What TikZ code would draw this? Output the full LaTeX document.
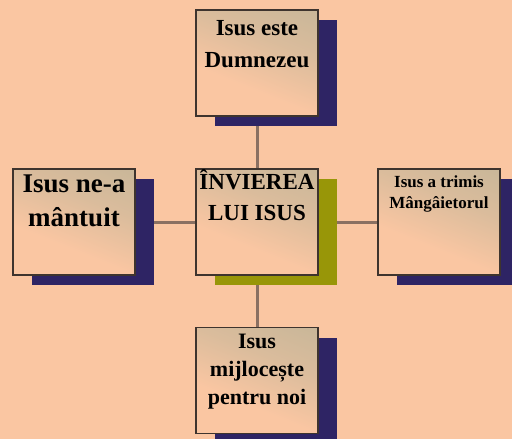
\documentclass[tikz,border=0pt]{standalone}
\usepackage{fontspec}
\setmainfont{Liberation Serif}
\usetikzlibrary{positioning}

\definecolor{peach}{RGB}{250,198,162}
\definecolor{cardgray}{RGB}{186,178,150}
\definecolor{navyshade}{RGB}{46,36,100}
\definecolor{oliveshade}{RGB}{152,150,8}
\definecolor{linkbrown}{RGB}{138,112,98}
\definecolor{rimgray}{RGB}{62,52,46}

\pgfdeclareverticalshading{cardfade}{100bp}{color(0bp)=(peach); color(38bp)=(peach);
  color(62bp)=(peach!50!cardgray); color(100bp)=(cardgray)}

\pgfdeclarelayer{paper}
\pgfdeclarelayer{links}
\pgfdeclarelayer{shades}
\pgfsetlayers{paper,links,shades,main}

\begin{document}
\begin{tikzpicture}[
    x=1pt, y=-1pt,
    card/.style={draw=rimgray, line width=1.3pt, minimum width=122pt, minimum height=106pt,
                 inner sep=0pt, shading=cardfade, shading angle=-22},
    backing/.style={fill=navyshade, minimum width=122pt, minimum height=106pt, inner sep=0pt},
    caption/.style={align=center, inner sep=0pt, text=black},
    link/.style={draw=linkbrown, line width=3pt},
  ]
  % --- page ---
  \begin{pgfonlayer}{paper}
    \fill[peach] (0,0) rectangle (512,439);
  \end{pgfonlayer}
  \useasboundingbox (0,0) rectangle (512,439);

  % --- cards (cross layout) ---
  \node[card] (dumnezeu)   at (257,63)    {};
  \node[card] (mantuit)    at (74,222)    {};
  \node[card] (inviere)    at (257,222)   {};
  \node[card] (mangaietor) at (439,222)   {};
  \node[card] (mijloceste) at (257,380.5) {};

  % --- card texts ---
  \node[caption, font=\bfseries\fontsize{23}{32}\selectfont, below=11pt of dumnezeu.north] (dumnezeuText) {Isus este\\Dumnezeu};
  \node[caption, font=\bfseries\fontsize{27}{34}\selectfont, below=6pt of mantuit.north] (mantuitText) {Isus ne-a\\mântuit};
  \node[caption, font=\bfseries\fontsize{23}{31}\selectfont, below=1pt of inviere.north] (inviereText) {ÎNVIEREA\\LUI ISUS};
  \node[caption, font=\bfseries\fontsize{17}{21}\selectfont, below=7pt of mangaietor.north] (mangaietorText) {Isus a trimis\\Mângâietorul};
  \node[caption, font=\bfseries\fontsize{22}{28}\selectfont, below=7pt of mijloceste.north] (mijlocesteText) {Isus\\mijlocește\\pentru noi};

  % --- drop shadows ---
  \begin{pgfonlayer}{shades}
    \foreach \card in {dumnezeu,mantuit,mangaietor,mijloceste}
      \node[backing] (\card Back) at ([shift={(19,10)}]\card) {};
    \node[backing, fill=oliveshade] (inviereBack) at ([shift={(19,10)}]inviere) {};
  \end{pgfonlayer}

  % --- connectors (behind everything) ---
  \begin{pgfonlayer}{links}
    \draw[link] (dumnezeu) -- (inviere);
    \draw[link] (mantuit) -- (inviere);
    \draw[link] (inviere) -- (mangaietor);
    \draw[link] (inviere) -- (mijloceste);
  \end{pgfonlayer}
\end{tikzpicture}
\end{document}
